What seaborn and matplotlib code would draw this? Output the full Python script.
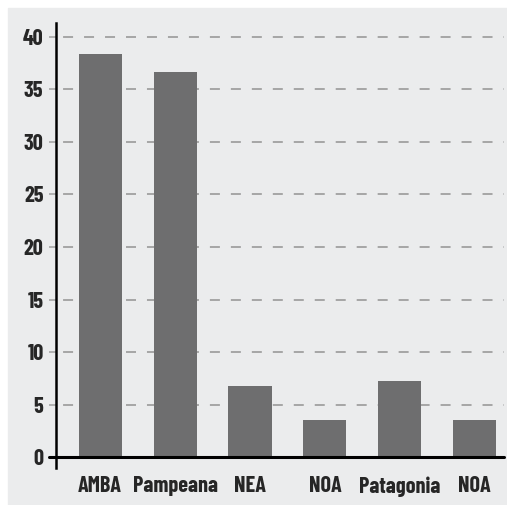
import matplotlib
matplotlib.use('Agg')
import matplotlib.pyplot as plt
import seaborn as sns
from matplotlib.patches import Rectangle

regions = ['AMBA', 'Pampeana', 'NEA', 'NOA', 'Patagonia', 'NOA']
values = [38.4, 36.6, 6.8, 3.6, 7.3, 3.6]
yticks = [0, 5, 10, 15, 20, 25, 30, 35, 40]

sns.set_style('white')
plt.rcParams['font.family'] = ['Barlow Condensed', 'Liberation Sans', 'DejaVu Sans']
plt.rcParams['lines.scale_dashes'] = False

bg = '#ebeced'
fig = plt.figure(figsize=(5.07, 5.05), dpi=100)
fig.patches.append(Rectangle((8 / 507, 0), 1, 1 - 8 / 505, transform=fig.transFigure,
                             color=bg, zorder=-5))
ax = fig.add_axes([56 / 507, 37 / 505, 448 / 507, 445 / 505])
ax.set_facecolor(bg)

pos = list(range(len(regions)))
sns.barplot(x=pos, y=values, color='#6e6e6f', width=0.575, saturation=1,
            linewidth=0, ax=ax, zorder=2)

ax.set_xlim(-0.59, 5.39)
ax.set_ylim(-1, 41.3)
ax.set_xticks(pos)
ax.set_xticklabels(regions, fontsize=16, fontweight='bold')
ax.set_yticks(yticks)
ax.set_yticklabels([str(t) for t in yticks], fontsize=16, fontweight='bold')
ax.set_xlabel('')
ax.set_ylabel('')

for t in yticks[1:]:
    ax.axhline(t, color='#a0a0a0', lw=1.3, ls=(10, (7.2, 7.9)), zorder=1)
ax.axhline(0, xmin=-0.016, color='black', lw=2.2, clip_on=False, zorder=3)

for s in ['top', 'right', 'bottom']:
    ax.spines[s].set_visible(False)
ax.spines['left'].set_linewidth(1.8)
ax.spines['left'].set_color('black')

ax.tick_params(axis='y', length=5, width=1.1, color='#a0a0a0', pad=4, left=True)
ax.tick_params(axis='x', length=0, pad=6)

fig.savefig('out.png', dpi=100)
